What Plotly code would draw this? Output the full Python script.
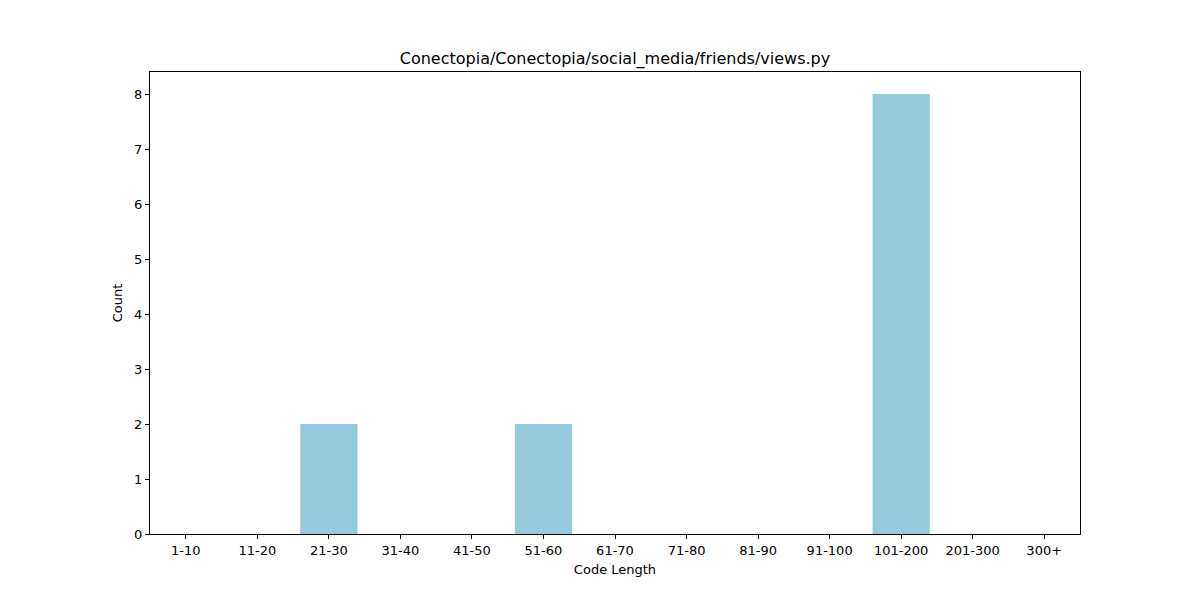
import plotly.graph_objects as go

categories = ["1-10","11-20","21-30","31-40","41-50","51-60","61-70","71-80","81-90","91-100","101-200","201-300","300+"]
counts = [0,0,2,0,0,2,0,0,0,0,8,0,0]

fig = go.Figure(go.Bar(x=categories, y=counts, marker_color="#96C9DC", width=0.8, marker_line_width=0))
ax = dict(showline=True, linecolor="black", linewidth=1, mirror=True, ticks="outside",
          ticklen=4, tickcolor="black", showgrid=False, zeroline=False,
          tickfont=dict(size=13, color="black"))
fig.update_layout(
    width=1200, height=600, plot_bgcolor="white", paper_bgcolor="white",
    margin=dict(l=142, r=128, t=64, b=74),
    font=dict(family="DejaVu Sans", color="black"),
    title=dict(text="Conectopia/Conectopia/social_media/friends/views.py", x=(142+1072)/2/1200, xanchor="center",
               y=1-50/600, yanchor="middle", font=dict(size=16)),
    xaxis=dict(**ax, range=[-0.5, 12.5], title=dict(text="Code Length", font=dict(size=13), standoff=8)),
    yaxis=dict(**ax, range=[0, 8.4], dtick=1, title=dict(text="Count", font=dict(size=13), standoff=8)),
    bargap=0.2, showlegend=False,
)
fig.write_html("out.html")
